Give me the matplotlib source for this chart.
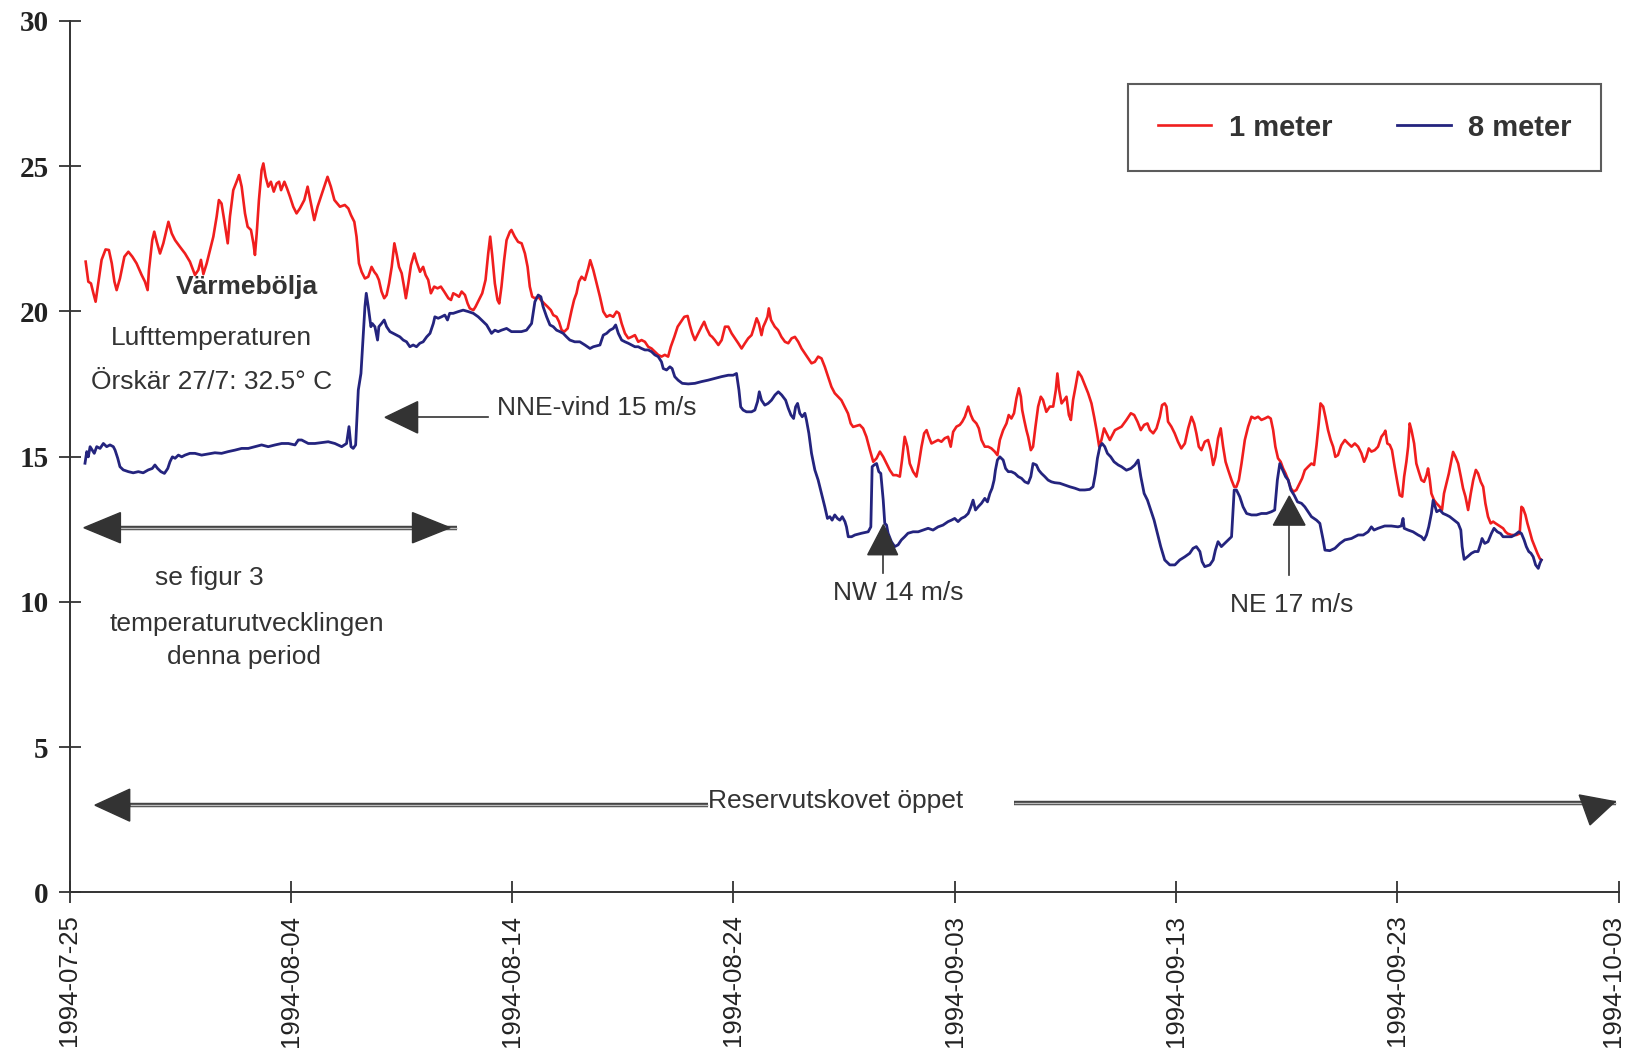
import numpy as np
import pandas as pd
import matplotlib
matplotlib.use("Agg")
import matplotlib.pyplot as plt
from matplotlib.patches import Polygon
from matplotlib.transforms import ScaledTranslation

# ---------------- data ----------------
start_date = "1994-07-25"
x_tick_labels = ["1994-07-25", "1994-08-04", "1994-08-14", "1994-08-24",
                 "1994-09-03", "1994-09-13", "1994-09-23", "1994-10-03"]
y_ticks = [0, 5, 10, 15, 20, 25, 30]
series_names = ["1 meter", "8 meter"]

# days since 1994-07-25, temperature (deg C) at 1 m depth
red_days = [
    0.73, 0.85, 0.97, 1.08, 1.18, 1.30, 1.45, 1.63, 1.78, 1.91, 2.03, 2.13, 2.28, 2.48, 2.66, 2.84,
    3.03, 3.26, 3.41, 3.53, 3.59, 3.74, 3.83, 3.94, 4.09, 4.24, 4.47, 4.62, 4.77, 4.99, 5.22, 5.44,
    5.67, 5.82, 5.94, 6.05, 6.20, 6.35, 6.50, 6.65, 6.75, 6.87, 6.99, 7.15, 7.25, 7.40, 7.55, 7.66,
    7.78, 7.93, 8.05, 8.20, 8.31, 8.38, 8.46, 8.56, 8.68, 8.76, 8.86, 8.98, 9.10, 9.23, 9.36, 9.47,
    9.56, 9.71, 9.83, 9.96, 10.11, 10.26, 10.41, 10.61, 10.76, 10.91, 11.06, 11.21, 11.36, 11.51,
    11.66, 11.81, 11.97,
    12.22, 12.44, 12.60, 12.72, 12.87, 12.97, 13.08, 13.20, 13.35, 13.50, 13.65, 13.77, 13.88, 13.98,
    14.10, 14.22, 14.33, 14.44, 14.56, 14.68, 14.79, 14.89, 15.01, 15.13, 15.20, 15.31, 15.43, 15.58,
    15.68, 15.84, 15.98, 16.09, 16.21, 16.33, 16.48, 16.63, 16.78, 16.93, 17.12, 17.24, 17.34, 17.49,
    17.60, 17.72, 17.87, 17.99, 18.09, 18.25, 18.35, 18.50, 18.65, 18.80, 18.92, 19.01, 19.10, 19.22,
    19.34, 19.42, 19.52, 19.64, 19.75, 19.90, 19.97, 20.12, 20.27, 20.43, 20.58, 20.70, 20.80, 20.91,
    21.03, 21.18, 21.30, 21.45, 21.60, 21.75, 21.86, 22.01, 22.12, 22.24, 22.36, 22.51, 22.69, 22.80,
    22.91, 23.02, 23.14, 23.29, 23.44, 23.53, 23.67,
    23.97, 24.12, 24.27, 24.42, 24.57, 24.72, 24.83, 24.95, 25.10, 25.25, 25.40, 25.55, 25.70, 25.85,
    26.00, 26.15, 26.30, 26.45, 26.60, 26.75, 26.90, 27.05, 27.17, 27.33, 27.48, 27.63, 27.78, 27.93,
    28.03, 28.14, 28.26, 28.41, 28.56, 28.68, 28.79, 28.94, 29.04, 29.16, 29.32, 29.47, 29.62, 29.77,
    29.92, 30.07, 30.22, 30.37, 30.52, 30.67, 30.82, 30.94, 31.05, 31.15, 31.27, 31.35, 31.45, 31.54,
    31.60, 31.70, 31.87, 32.02, 32.17, 32.33, 32.48, 32.63, 32.78, 32.93, 33.08, 33.23, 33.38, 33.53,
    33.68, 33.83, 33.98, 34.13, 34.28, 34.43, 34.58, 34.73, 34.88, 35.03, 35.18, 35.30, 35.41,
    35.71, 35.86, 36.01, 36.17, 36.32, 36.47, 36.62, 36.77, 36.92, 37.07, 37.22, 37.37, 37.52, 37.62,
    37.74, 37.86, 37.97, 38.12, 38.27, 38.38, 38.50, 38.62, 38.73, 38.83, 38.95, 39.10, 39.25, 39.40,
    39.55, 39.70, 39.82, 39.93, 40.08, 40.23, 40.34, 40.46, 40.61, 40.73, 40.83, 40.98, 41.09, 41.21,
    41.36, 41.51, 41.66, 41.81, 41.93, 42.04, 42.19, 42.34, 42.44, 42.56, 42.68, 42.79, 42.90, 42.99,
    43.05, 43.14, 43.24, 43.32, 43.44, 43.54, 43.65, 43.77, 43.89, 43.99, 44.14, 44.30, 44.45, 44.57,
    44.64, 44.72, 44.83, 44.95, 45.05, 45.16, 45.25, 45.35, 45.46, 45.58, 45.73, 45.88, 46.03, 46.18,
    46.30, 46.41, 46.53, 46.63, 46.75, 46.86, 47.01,
    47.24, 47.39, 47.54, 47.76, 47.96, 48.11, 48.26, 48.41, 48.56, 48.71, 48.82, 48.97, 49.12, 49.27,
    49.37, 49.49, 49.57, 49.64, 49.79, 49.94, 50.09, 50.24, 50.40, 50.55, 50.70, 50.82, 50.92, 51.03,
    51.15, 51.30, 51.45, 51.57, 51.68, 51.78, 51.90, 52.02, 52.13, 52.24, 52.36, 52.51, 52.63, 52.73,
    52.84, 52.96, 53.11, 53.26, 53.41, 53.56, 53.71, 53.86, 54.01, 54.16, 54.28, 54.39, 54.49, 54.61,
    54.73, 54.84, 54.95, 55.07, 55.19, 55.31, 55.44, 55.59, 55.70, 55.82, 55.97, 56.12, 56.24, 56.35,
    56.45, 56.53, 56.65, 56.75, 56.87, 56.99, 57.10, 57.20, 57.32, 57.47, 57.63, 57.78, 57.93, 58.08,
    58.23, 58.38, 58.50, 58.60, 58.71, 58.83, 58.98, 59.13, 59.28,
    59.40, 59.46, 59.55, 59.66, 59.76, 59.88, 60.01, 60.11, 60.22, 60.31, 60.41, 60.49, 60.56, 60.64,
    60.76, 60.86, 60.97, 61.09, 61.21, 61.32, 61.39, 61.47, 61.54, 61.66, 61.77, 61.92, 62.02, 62.11,
    62.22, 62.33, 62.45, 62.52, 62.63, 62.75, 62.87, 62.97, 63.08, 63.20, 63.32, 63.43, 63.55, 63.65,
    63.77, 63.88, 63.98, 64.10, 64.22, 64.33, 64.44, 64.56, 64.68, 64.78, 64.89, 64.98, 65.16, 65.38,
    65.53, 65.61, 65.68, 65.79, 65.88, 65.99, 66.09, 66.21, 66.33, 66.44, 66.51,
]
red_temp = [
    21.71, 21.02, 20.96, 20.62, 20.33, 20.96, 21.77, 22.13, 22.11, 21.65, 21.02, 20.73, 21.13, 21.88, 22.05, 21.88,
    21.65, 21.25, 21.02, 20.73, 21.42, 22.45, 22.74, 22.40, 21.99, 22.34, 23.08, 22.68, 22.45, 22.22, 21.99, 21.71,
    21.25, 21.42, 21.77, 21.28, 21.65, 22.11, 22.57, 23.26, 23.83, 23.71, 23.14, 22.34, 23.26, 24.17, 24.46, 24.69,
    24.29, 23.37, 22.91, 22.80, 22.34, 21.94, 22.68, 23.83, 24.86, 25.09, 24.63, 24.29, 24.46, 24.12, 24.40, 24.46,
    24.17, 24.46, 24.23, 23.95, 23.60, 23.37, 23.54, 23.83, 24.29, 23.71, 23.14, 23.60, 23.95, 24.29,
    24.63, 24.29, 23.83,
    23.60, 23.66, 23.54, 23.31, 23.08, 22.57, 21.65, 21.36, 21.13, 21.19, 21.53, 21.36, 21.25, 21.08,
    20.68, 20.45, 20.56, 20.96, 21.53, 22.34, 21.94, 21.53, 21.31, 20.79, 20.45, 20.96, 21.59, 21.99,
    21.71, 21.36, 21.53, 21.25, 21.08, 20.62, 20.85, 20.79, 20.85, 20.68, 20.45, 20.39, 20.62, 20.56,
    20.50, 20.68, 20.56, 20.27, 20.10, 20.04, 20.16, 20.39, 20.62, 21.08, 21.99, 22.57, 21.94, 20.96,
    20.39, 20.27, 20.85, 21.76, 22.45, 22.74, 22.80, 22.57, 22.39, 22.34, 21.99, 21.53, 20.85, 20.50,
    20.45, 20.50, 20.39, 20.27, 20.16, 20.04, 19.87, 19.81, 19.64, 19.35, 19.30, 19.41, 20.04, 20.39,
    20.62, 21.02, 21.19, 21.08, 21.48, 21.76, 21.42,
    20.50, 19.99, 19.81, 19.87, 19.81, 19.99, 19.93, 19.58, 19.24, 19.07, 19.12, 19.18, 18.95, 19.01,
    18.95, 18.78, 18.72, 18.61, 18.50, 18.44, 18.50, 18.44, 18.78, 19.12, 19.47, 19.64, 19.81, 19.84,
    19.53, 19.24, 19.01, 19.24, 19.47, 19.64, 19.41, 19.18, 19.12, 19.01, 18.84, 19.01, 19.47, 19.47,
    19.24, 19.07, 18.90, 18.72, 18.90, 19.07, 19.18, 19.47, 19.76, 19.58, 19.18, 19.47, 19.64, 19.81,
    20.10, 19.70, 19.47, 19.35, 19.12, 18.95, 18.90, 19.07, 19.12, 18.95, 18.72, 18.55, 18.38, 18.21,
    18.26, 18.44, 18.38, 18.09, 17.75, 17.40, 17.18, 17.06, 16.94, 16.71, 16.48, 16.14, 16.02,
    16.09, 15.97, 15.68, 15.22, 14.82, 14.94, 15.17, 14.99, 14.76, 14.53, 14.36, 14.36, 14.31, 14.88,
    15.68, 15.34, 14.76, 14.48, 14.31, 14.76, 15.34, 15.80, 15.91, 15.68, 15.45, 15.51, 15.57, 15.51,
    15.63, 15.68, 15.34, 15.85, 16.03, 16.09, 16.20, 16.37, 16.72, 16.43, 16.26, 16.14, 15.97, 15.57,
    15.34, 15.34, 15.28, 15.17, 15.05, 15.57, 15.91, 16.14, 16.43, 16.31, 16.49, 17.00, 17.35, 17.06,
    16.60, 16.26, 15.91, 15.68, 15.22, 15.34, 16.03, 16.72, 17.06, 16.95, 16.54, 16.72, 16.72, 17.29,
    17.86, 17.29, 16.83, 16.95, 17.06, 16.43, 16.26, 16.95, 17.40, 17.92, 17.75, 17.46, 17.18, 16.83,
    16.37, 15.91, 15.34, 15.57, 15.97, 15.80, 15.57,
    15.91, 15.97, 16.03, 16.26, 16.49, 16.43, 16.20, 15.91, 16.09, 16.14, 15.91, 15.80, 15.97, 16.37,
    16.77, 16.83, 16.72, 16.20, 16.03, 15.80, 15.51, 15.28, 15.45, 15.97, 16.37, 16.14, 15.80, 15.34,
    15.22, 15.51, 15.57, 15.22, 14.71, 14.99, 15.63, 15.97, 15.34, 14.82, 14.53, 14.19, 13.96, 13.96,
    14.19, 14.76, 15.57, 16.03, 16.37, 16.31, 16.37, 16.26, 16.31, 16.37, 16.31, 15.91, 15.34, 14.94,
    14.82, 14.59, 14.42, 14.19, 13.91, 13.79, 13.85, 14.08, 14.25, 14.53, 14.65, 14.76, 14.71, 15.39,
    16.14, 16.83, 16.72, 16.37, 15.91, 15.57, 15.34, 14.99, 15.05, 15.39, 15.57, 15.45, 15.34, 15.45,
    15.34, 15.11, 14.82, 14.99, 15.28, 15.17, 15.22, 15.34, 15.68,
    15.80, 15.89, 15.45, 15.40, 15.22, 14.65, 14.08, 13.67, 13.62, 14.31, 14.82, 15.34, 16.14, 15.91,
    15.45, 14.76, 14.48, 14.19, 14.13, 14.36, 14.59, 14.19, 13.73, 13.50, 13.39, 13.27, 13.16, 13.73,
    14.08, 14.42, 14.88, 15.16, 14.99, 14.76, 14.31, 13.91, 13.62, 13.16, 13.73, 14.19, 14.54, 14.42,
    14.13, 13.96, 13.39, 12.93, 12.70, 12.76, 12.70, 12.64, 12.58, 12.53, 12.41, 12.35, 12.30, 12.30,
    12.35, 13.27, 13.22, 12.99, 12.70, 12.41, 12.13, 11.90, 11.67, 11.49, 11.44,
]

# days since 1994-07-25, temperature (deg C) at 8 m depth
blue_days = [
    0.70, 0.78, 0.85, 0.93, 1.03, 1.12, 1.23, 1.38, 1.53, 1.68, 1.83, 1.98, 2.06, 2.18, 2.28, 2.43,
    2.66, 2.88, 3.11, 3.33, 3.56, 3.74, 3.86, 3.98, 4.13, 4.29, 4.44, 4.54, 4.65, 4.77, 4.92, 5.07,
    5.22, 5.44, 5.67, 5.97, 6.27, 6.57, 6.87, 7.17, 7.47, 7.78, 8.08, 8.38, 8.68, 8.98, 9.29, 9.59,
    9.89, 10.19, 10.34, 10.49, 10.64, 10.79, 11.09, 11.39, 11.69, 11.99,
    12.30, 12.52, 12.63, 12.72, 12.82, 12.93, 12.99, 13.05, 13.17, 13.28, 13.35, 13.41, 13.50, 13.58,
    13.62, 13.68, 13.80, 13.92, 13.98, 14.10, 14.22, 14.33, 14.48, 14.63, 14.78, 14.93, 15.08, 15.23,
    15.38, 15.53, 15.68, 15.83, 15.98, 16.14, 16.29, 16.44, 16.51, 16.66, 16.81, 16.96, 17.08, 17.18,
    17.34, 17.57, 17.79, 18.02, 18.25, 18.47, 18.62, 18.85, 19.07, 19.22, 19.37, 19.52, 19.75, 19.97,
    20.20, 20.42, 20.65, 20.88, 21.03, 21.18, 21.30, 21.40, 21.56, 21.71, 21.86, 22.01, 22.16, 22.31,
    22.46, 22.61, 22.83, 23.06, 23.29, 23.52, 23.67,
    23.97, 24.12, 24.27, 24.42, 24.57, 24.68, 24.80, 24.95, 25.10, 25.25, 25.40, 25.55, 25.70, 25.85,
    26.00, 26.15, 26.30, 26.45, 26.60, 26.75, 26.83, 26.98, 27.13, 27.23, 27.35, 27.50, 27.69, 27.96,
    28.26, 28.56, 28.86, 29.16, 29.46, 29.77, 29.99, 30.14, 30.25, 30.33, 30.44, 30.59, 30.82, 30.97,
    31.09, 31.17, 31.27, 31.42, 31.57, 31.72, 31.88, 32.03, 32.18, 32.36, 32.48, 32.60, 32.72, 32.81,
    32.90, 33.00, 33.11, 33.23, 33.30, 33.41, 33.53, 33.68, 33.83, 33.98, 34.13, 34.25, 34.36, 34.46,
    34.58, 34.70, 34.81, 34.92, 35.04, 35.11, 35.19, 35.34, 35.49,
    35.79, 36.09, 36.21, 36.27, 36.36, 36.47, 36.57, 36.66, 36.77, 36.84, 36.92, 36.99, 37.14, 37.29,
    37.44, 37.59, 37.74, 37.89, 38.12, 38.35, 38.57, 38.80, 39.02, 39.25, 39.47, 39.70, 39.85, 40.00,
    40.15, 40.30, 40.46, 40.61, 40.73, 40.83, 40.94, 41.06, 41.21, 41.36, 41.48, 41.59, 41.69, 41.78,
    41.84, 41.93, 42.04, 42.19, 42.30, 42.42, 42.56, 42.72, 42.87, 43.02, 43.17, 43.32, 43.44, 43.54,
    43.69, 43.80, 43.92, 44.07, 44.22, 44.37, 44.52, 44.75, 44.97, 45.20, 45.43, 45.65, 45.88, 46.10,
    46.25, 46.36, 46.45, 46.56, 46.66, 46.78, 46.90, 47.05, 47.20,
    47.39, 47.54, 47.76, 47.96, 48.14, 48.29, 48.41, 48.56, 48.71, 48.86, 49.01, 49.16, 49.31, 49.49,
    49.72, 49.95, 50.17, 50.40, 50.62, 50.77, 50.92, 51.08, 51.18, 51.30, 51.53, 51.68, 51.78, 51.90,
    52.05, 52.20, 52.36, 52.51, 52.63, 52.73, 52.88, 53.03, 53.19, 53.41, 53.64, 53.86, 54.09, 54.31,
    54.46, 54.58, 54.69, 54.79, 54.95, 55.07, 55.19, 55.34, 55.49, 55.67, 55.82, 55.97, 56.12, 56.35,
    56.50, 56.65, 56.73, 56.95, 57.18, 57.41, 57.63, 57.93, 58.23, 58.46, 58.68, 58.83, 58.95, 59.13,
    59.43, 59.73, 60.03, 60.18, 60.26, 60.31, 60.49, 60.71, 60.94, 61.09, 61.21, 61.32, 61.42, 61.54,
    61.62, 61.78, 61.92, 62.07, 62.22, 62.37, 62.57, 62.75, 62.87, 62.93, 63.02, 63.17, 63.35, 63.50,
    63.65, 63.77, 63.83, 63.95, 64.10, 64.25, 64.37, 64.52, 64.67, 64.78, 64.93, 65.16, 65.31, 65.49,
    65.61, 65.73, 65.83, 65.94, 66.04, 66.14, 66.25, 66.37, 66.44, 66.51,
]
blue_temp = [
    14.77, 15.17, 14.99, 15.34, 15.22, 15.11, 15.34, 15.28, 15.45, 15.34, 15.40, 15.34, 15.22, 14.94, 14.65, 14.54,
    14.48, 14.44, 14.48, 14.44, 14.54, 14.59, 14.71, 14.59, 14.48, 14.42, 14.59, 14.82, 14.99, 14.94, 15.05, 14.99,
    15.05, 15.11, 15.11, 15.05, 15.09, 15.13, 15.11, 15.17, 15.22, 15.28, 15.28, 15.34, 15.40, 15.34, 15.40, 15.45,
    15.45, 15.40, 15.57, 15.57, 15.51, 15.45, 15.45, 15.48, 15.51, 15.45,
    15.34, 15.45, 16.03, 15.34, 15.28, 15.40, 16.37, 17.29, 17.86, 19.24, 20.16, 20.62, 20.16, 19.70,
    19.47, 19.58, 19.47, 19.01, 19.47, 19.58, 19.70, 19.47, 19.30, 19.24, 19.18, 19.12, 19.01, 18.95,
    18.78, 18.84, 18.78, 18.90, 18.95, 19.12, 19.24, 19.58, 19.81, 19.76, 19.81, 19.87, 19.70, 19.93,
    19.93, 19.99, 20.04, 19.99, 19.93, 19.81, 19.70, 19.53, 19.24, 19.35, 19.30, 19.35, 19.41, 19.30,
    19.30, 19.30, 19.35, 19.58, 20.33, 20.56, 20.50, 20.16, 19.81, 19.53, 19.47, 19.35, 19.30, 19.24,
    19.12, 19.01, 18.95, 18.95, 18.84, 18.72, 18.78,
    18.84, 19.18, 19.24, 19.35, 19.41, 19.53, 19.24, 19.01, 18.95, 18.90, 18.84, 18.78, 18.78, 18.72,
    18.67, 18.67, 18.61, 18.50, 18.44, 18.26, 18.03, 17.98, 18.09, 18.03, 17.75, 17.63, 17.52, 17.50,
    17.52, 17.58, 17.63, 17.69, 17.75, 17.80, 17.80, 17.86, 17.29, 16.71, 16.60, 16.54, 16.54, 16.60,
    16.89, 17.23, 16.94, 16.77, 16.83, 16.94, 17.12, 17.23, 17.12, 16.94, 16.66, 16.43, 16.31, 16.71,
    16.83, 16.49, 16.37, 16.49, 16.26, 15.80, 15.11, 14.54, 14.19, 13.73, 13.27, 12.87, 12.93, 12.81,
    12.99, 12.87, 12.81, 12.93, 12.76, 12.58, 12.24, 12.24, 12.30,
    12.36, 12.41, 12.58, 14.65, 14.71, 14.76, 14.48, 14.42, 13.50, 12.70, 12.64, 12.36, 12.07, 11.90,
    11.96, 12.13, 12.24, 12.36, 12.41, 12.41, 12.47, 12.53, 12.47, 12.58, 12.64, 12.76, 12.81, 12.87,
    12.76, 12.87, 12.93, 13.04, 13.27, 13.50, 13.16, 13.27, 13.39, 13.56, 13.44, 13.73, 13.91, 14.19,
    14.53, 14.88, 14.99, 14.88, 14.59, 14.48, 14.48, 14.42, 14.31, 14.25, 14.13, 14.08, 14.31, 14.76,
    14.71, 14.53, 14.42, 14.31, 14.19, 14.13, 14.10, 14.08, 14.02, 13.96, 13.91, 13.85, 13.85, 13.87,
    13.96, 14.42, 14.94, 15.34, 15.45, 15.34, 15.11, 14.99, 14.82,
    14.71, 14.65, 14.53, 14.59, 14.71, 14.88, 14.31, 13.73, 13.50, 13.16, 12.81, 12.35, 11.90, 11.44,
    11.27, 11.27, 11.44, 11.55, 11.67, 11.84, 11.90, 11.73, 11.38, 11.21, 11.27, 11.44, 11.78, 12.07,
    11.90, 12.01, 12.13, 12.24, 13.85, 13.85, 13.62, 13.27, 13.04, 12.99, 12.99, 13.04, 13.04, 13.10,
    13.16, 14.19, 14.76, 14.59, 14.31, 14.19, 13.85, 13.67, 13.44, 13.39, 13.27, 13.10, 12.93, 12.81,
    12.70, 12.13, 11.78, 11.76, 11.84, 12.01, 12.13, 12.18, 12.30, 12.30, 12.41, 12.58, 12.47, 12.53,
    12.61, 12.61, 12.58, 12.61, 12.87, 12.53, 12.47, 12.41, 12.30, 12.24, 12.13, 12.30, 12.58, 13.04,
    13.50, 13.10, 13.16, 13.04, 12.99, 12.93, 12.81, 12.70, 12.47, 11.90, 11.46, 11.55, 11.67, 11.73,
    11.73, 12.01, 12.18, 12.01, 12.07, 12.35, 12.53, 12.41, 12.35, 12.24, 12.24, 12.24, 12.30, 12.41,
    12.35, 12.13, 11.90, 11.73, 11.67, 11.55, 11.27, 11.15, 11.32, 11.44,
]

# ---------------- figure ----------------
W, H = 1627, 1055
fig = plt.figure(figsize=(W / 100, H / 100), dpi=100)
ax = fig.add_axes([69.5 / W, 1 - 892.3 / H, 1549.1 / W, 871.5 / H])

RED = "#f01e1e"
BLUE = "#24247e"
TXT = "#333333"
SANS = "Liberation Sans"

ax.plot(red_days, red_temp, color=RED, lw=1.9, label=series_names[0], zorder=3)
ax.plot(blue_days, blue_temp, color=BLUE, lw=2.0, label=series_names[1], zorder=4)

start = pd.Timestamp(start_date)
x_tick_pos = [(pd.Timestamp(s) - start).days for s in x_tick_labels]
ax.set_xlim(0, x_tick_pos[-1])
ax.set_ylim(0, 30)
ax.set_xticks(x_tick_pos)
ax.set_xticklabels(x_tick_labels, rotation=90, ha="center", va="top",
                   fontfamily=SANS, fontsize=18.5, color="#222222")
ax.set_yticks(y_ticks)
ax.set_yticklabels([str(v) for v in y_ticks], fontfamily="Liberation Serif",
                   fontweight="bold", fontsize=21, color="#222222")
ax.tick_params(axis="both", direction="inout", length=16, width=1.3, color="#333333")
ax.tick_params(axis="y", pad=7)
ax.tick_params(axis="x", pad=8)
for side in ["top", "right"]:
    ax.spines[side].set_visible(False)
for side in ["left", "bottom"]:
    ax.spines[side].set_color("#333333")
    ax.spines[side].set_linewidth(1.4)

# keep the last date label inside the figure
last_lab = ax.get_xticklabels()[-1]
last_lab.set_transform(last_lab.get_transform() + ScaledTranslation(-4 / 72, 0, fig.dpi_scale_trans))

leg = ax.legend(loc="center", bbox_to_anchor=(0.836, 0.8775), ncol=2,
                prop={"family": SANS, "weight": "bold", "size": 21},
                handlelength=1.85, handletextpad=0.6, columnspacing=2.2,
                borderpad=1.0, fancybox=False, frameon=True)
leg.get_frame().set_edgecolor("#333333")
leg.get_frame().set_linewidth(1.5)
for t in leg.get_texts():
    t.set_color(TXT)


def tri(points):
    ax.add_patch(Polygon(points, closed=True, facecolor="#333333",
                         edgecolor="#333333", lw=1, zorder=5))


def dline(x0, x1, y):
    ax.plot([x0, x1], [y, y], color="#444444", lw=3.2, solid_capstyle="butt", zorder=4)
    ax.plot([x0, x1], [y, y], color="#bdbdbd", lw=1.0, solid_capstyle="butt", zorder=4)


tk = dict(fontfamily=SANS, fontsize=19, color=TXT, zorder=6)

# heat-wave annotation
ax.text(8.0, 20.85, "Värmebölja", ha="center", va="center", fontweight="bold", **tk)
ax.text(6.42, 19.07, "Lufttemperaturen", ha="center", va="center", **tk)
ax.text(6.42, 17.58, "Örskär 27/7: 32.5° C", ha="center", va="center", **tk)

# NNE wind
tri([(14.26, 16.35), (15.73, 16.89), (15.73, 15.81)])
ax.plot([15.73, 18.92], [16.35, 16.35], color="#333333", lw=1.2, zorder=4)
ax.text(19.33, 16.66, "NNE-vind 15 m/s", ha="left", va="center", **tk)

# double arrow "se figur 3"
dline(2.3, 17.5, 12.55)
tri([(0.65, 12.55), (2.3, 13.07), (2.3, 12.03)])
tri([(17.2, 12.55), (15.5, 13.07), (15.5, 12.03)])
ax.text(6.3, 10.82, "se figur 3", ha="center", va="center", **tk)
ax.text(8.0, 9.22, "temperaturutvecklingen", ha="center", va="center", **tk)
ax.text(7.9, 8.1, "denna period", ha="center", va="center", **tk)

# NW wind
tri([(36.07, 11.62), (37.42, 11.62), (36.78, 12.66)])
ax.plot([36.78, 36.78], [11.62, 10.98], color="#333333", lw=1.2, zorder=4)
ax.text(37.46, 10.32, "NW 14 m/s", ha="center", va="center", **tk)

# NE wind
tri([(54.4, 12.64), (55.83, 12.64), (55.12, 13.64)])
ax.plot([55.12, 55.12], [12.64, 10.92], color="#333333", lw=1.2, zorder=4)
ax.text(55.23, 9.89, "NE 17 m/s", ha="center", va="center", **tk)

# Reservutskovet
dline(2.72, 28.83, 3.0)
tri([(1.15, 3.0), (2.72, 3.55), (2.72, 2.45)])
ax.text(28.83, 3.15, "Reservutskovet öppet", ha="left", va="center", **tk)
dline(42.66, 69.9, 3.06)
tri([(68.22, 3.35), (69.84, 3.12), (68.71, 2.32)])

fig.savefig("out.png", dpi=100)
